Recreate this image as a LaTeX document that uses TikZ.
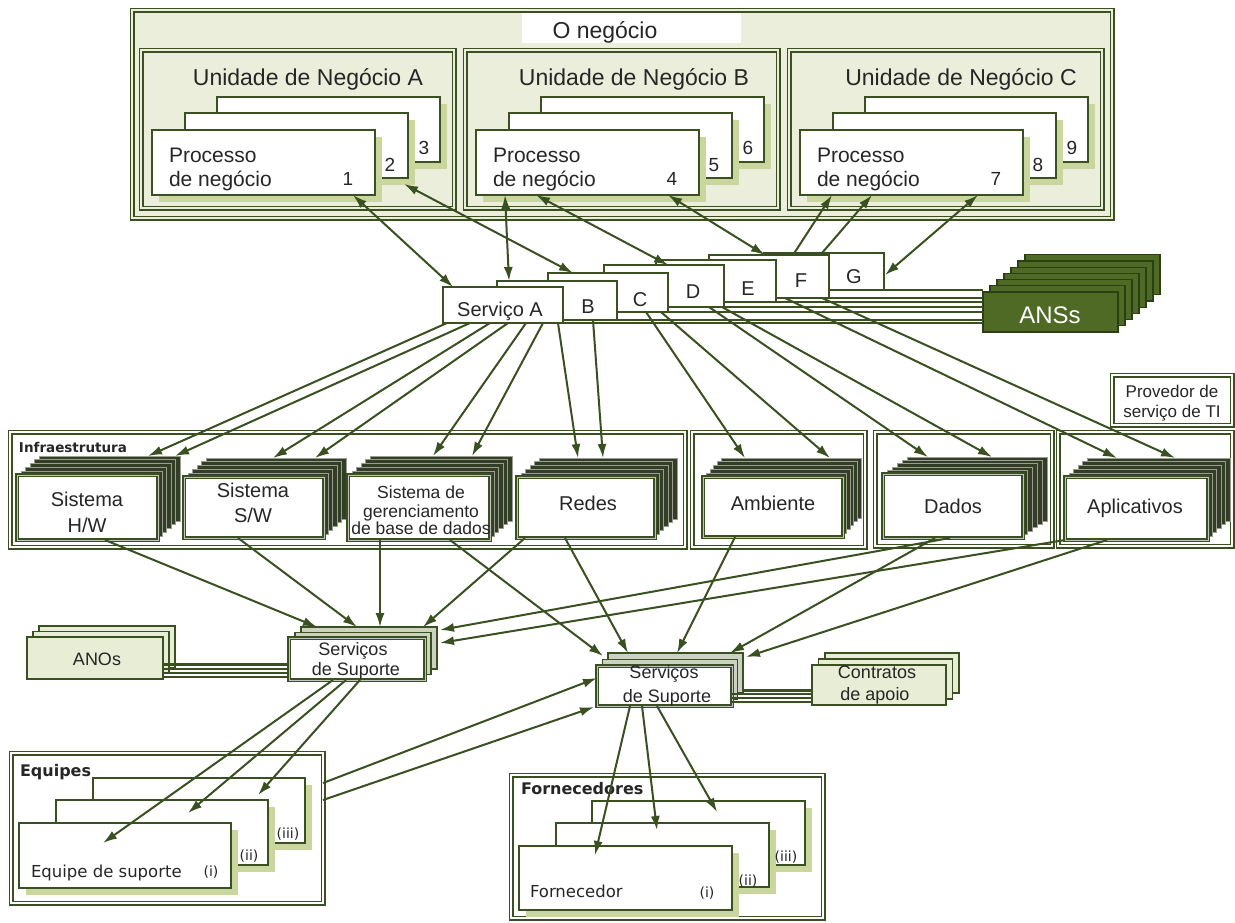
\documentclass[tikz,border=0pt]{standalone}
\usepackage{fontspec}
\setmainfont{Liberation Sans}
\newfontfamily\dejavu{DejaVu Sans}
\usetikzlibrary{arrows.meta,calc}

\definecolor{dg}{HTML}{3A5020}
\definecolor{bizbg}{HTML}{EBEEDB}
\definecolor{shade}{HTML}{C9D79E}
\definecolor{ansfill}{HTML}{4E6A25}
\definecolor{ansline}{HTML}{2B4012}
\definecolor{stackdark}{HTML}{323E26}
\definecolor{stackedge}{HTML}{9A9D90}
\definecolor{ssgray}{HTML}{CDD1C1}
\definecolor{paleg}{HTML}{E8EDD5}
\definecolor{ink}{HTML}{262626}

\newcommand\fsz[1]{\fontsize{#1}{#1}\selectfont}

% three cascaded business-process cards with their labels
\newcommand\procstack[5]{%
  \node[procard, minimum width=223, minimum height=65] (#1c) at ({#2+65},97) {};
  \node[procard, minimum width=223, minimum height=65] (#1b) at ({#2+33},113) {};
  \node[procard, minimum width=223, minimum height=65] (#1a) at (#2,130) {};
  \node[ptext, anchor=base west] (#1t) at ({#2+17},162) {Processo};
  \node[ptext, anchor=base west] (#1u) at ({#2+17},186) {de negócio};
  \node[pnum] (#1n) at ({#2+196},179) {#3};
  \node[pnum] (#1m) at ({#2+238},165) {#4};
  \node[pnum] (#1l) at ({#2+272},148) {#5};
}

% infrastructure component: five dark cards behind a white front card
\newcommand\infstack[7]{%
  \foreach \k in {5,...,1}{
    \node[backcard, minimum width=#4, minimum height=#5] (#1\k) at ({#2+\k*#6},{#3-\k*#7}) {};
  }
  \node[frontcard, minimum width=#4, minimum height=#5] (#1) at (#2,#3) {};
}

% two cards behind a front card
\newcommand\cardstack[9]{%
  \foreach \k in {2,1}{
    \node[#8, minimum width=#4, minimum height=#5] (#1\k) at ({#2+\k*#6},{#3-\k*#7}) {};
  }
  \node[#9, minimum width=#4, minimum height=#5] (#1) at (#2,#3) {};
}

\begin{document}
\begin{tikzpicture}[x=1pt, y=-1pt,
  every node/.style={inner sep=0pt, outer sep=0pt, text=ink},
  boxframe/.style={draw=dg, line width=1.7pt, double=#1, double distance=1.6pt, fill=#1, anchor=north west},
  boxframe/.default=white,
  procard/.style={draw=dg, line width=2.2pt, fill=white, anchor=north west,
    preaction={fill=shade, transform canvas={xshift=7pt, yshift=-7pt}}},
  svccard/.style={draw=dg, line width=1.9pt, fill=white, anchor=north west, minimum width=120},
  anscard/.style={draw=ansline, line width=1.2pt, fill=ansfill, anchor=north west,
    minimum width=135, minimum height=40},
  backcard/.style={draw=stackedge, line width=0.8pt, fill=stackdark, anchor=north west},
  frontcard/.style={draw=dg, line width=1.6pt, double=stackedge!60, double distance=0.9pt,
    fill=white, anchor=north west},
  ssback/.style={draw=dg, line width=1.6pt, fill=ssgray, anchor=north west},
  ssfront/.style={draw=dg, line width=1.5pt, double=stackedge!60, double distance=0.8pt,
    fill=white, anchor=north west},
  palecard/.style={draw=dg, line width=1.6pt, fill=paleg, anchor=north west},
  link/.style={draw=dg, line width=1.6pt},
  thinlink/.style={draw=dg, line width=1.2pt},
  heavylink/.style={draw=dg, line width=3pt},
  arr/.style={draw=dg, line width=2pt, -{Latex[length=14pt,width=9pt]}},
  barr/.style={draw=dg, line width=2pt, {Latex[length=14pt,width=9pt]}-{Latex[length=14pt,width=9pt]}},
  title/.style={font=\fsz{23}, anchor=base},
  ptext/.style={font=\fsz{21}},
  pnum/.style={font=\fsz{19}},
  svct/.style={font=\fsz{20}, anchor=base},
  anst/.style={font=\fsz{24}, text=white, anchor=base},
  inft/.style={font=\fsz{20}, anchor=base},
  dbt/.style={font=\fsz{17.5}, anchor=base},
  provt/.style={font=\fsz{17}, anchor=base},
  sst/.style={font=\fsz{18}, anchor=base},
  boldlbl/.style={font=\dejavu\bfseries\fsz{16}, anchor=base west},
  cardt/.style={font=\dejavu\fsz{16.5}, anchor=base west},
  roman/.style={font=\dejavu\fsz{14}}
]
\useasboundingbox (0,0) rectangle (1235,922);
\fill[white] (0,0) rectangle (1235,922);

% ---------- the business ----------
\node[boxframe=bizbg, minimum width=980, minimum height=208] (biz) at (132,10) {};
\node[fill=white, anchor=north west, minimum width=219, minimum height=30] (bizlbl) at (522,13) {};
\node[title] (biztxt) at (605,38) {O negócio};
\node[boxframe=bizbg, minimum width=313, minimum height=158] (unitA) at (141,50) {};
\node[boxframe=bizbg, minimum width=313, minimum height=158] (unitB) at (465,50) {};
\node[boxframe=bizbg, minimum width=313, minimum height=158] (unitC) at (789,50) {};
\node[title] (unitAt) at (308,85) {Unidade de Negócio A};
\node[title] (unitBt) at (634,85) {Unidade de Negócio B};
\node[title] (unitCt) at (961,85) {Unidade de Negócio C};
\procstack{pA}{152}{1}{2}{3}
\procstack{pB}{476}{4}{5}{6}
\procstack{pC}{800}{7}{8}{9}

% ---------- services ----------
\node[svccard, minimum height=37] (svcG) at (764,253) {};
\node[svccard, minimum height=43] (svcF) at (709,255) {};
\node[svccard, minimum height=42] (svcE) at (656,260) {};
\node[svccard, minimum height=42] (svcD) at (604,265) {};
\node[svccard, minimum height=39] (svcC) at (548,273) {};
\node[svccard, minimum height=39] (svcB) at (497,281) {};
\node[svccard, minimum height=36] (svcA) at (443,287) {};
\node[svct] (svcAt) at (500,316) {Serviço A};
\node[svct] (svcBt) at (588,313) {B};
\node[svct] (svcCt) at (640,306) {C};
\node[svct] (svcDt) at (693,298) {D};
\node[svct] (svcEt) at (748,295) {E};
\node[svct] (svcFt) at (801,287) {F};
\node[svct] (svcGt) at (854,283) {G};

% service level agreements
\foreach \k in {6,...,0}{
  \node[anscard] (ans\k) at ({983+7*\k},{292-6.2*\k}) {};
}
\node[anst] (anstxt) at (1050,323) {ANSs};
\foreach \s in {A,B,C,D,E,F,G}{
  \draw[link] (svc\s.south east) -- (svc\s.south east -| ans0.west);
}

% ---------- IT provider ----------
\node[boxframe, minimum width=120, minimum height=50] (prov) at (1112,375) {};
\node[provt] (provt1) at (1172,397) {Provedor de};
\node[provt] (provt2) at (1172,417) {serviço de TI};

\node[boxframe, minimum width=675, minimum height=115] (infra) at (10,432) {};
\node[font=\dejavu\bfseries\fsz{13.5}, anchor=base west] (infrat) at (19,452) {Infraestrutura};
\node[boxframe, minimum width=173, minimum height=115] (ambf) at (692,432) {};
\node[boxframe, minimum width=177, minimum height=114] (dadf) at (875,432) {};
\node[boxframe, minimum width=174, minimum height=114] (aplf) at (1058,432) {};

\infstack{hw}{17}{475}{141}{65}{4.4}{3.8}
\infstack{sw}{184}{477}{140}{61}{4.4}{3.8}
\infstack{db}{348}{475}{142}{65}{4.4}{3.8}
\infstack{rd}{517}{477}{138}{61}{4.4}{3.8}
\infstack{am}{703}{477}{140}{60}{3.6}{3.8}
\infstack{da}{883}{474}{140}{64}{4.8}{3.4}
\infstack{ap}{1065}{477}{143}{63}{4.4}{3.8}

\node[inft] (hwt1) at (87,506) {Sistema};
\node[inft] (hwt2) at (87,532) {H/W};
\node[inft] (swt1) at (253,497) {Sistema};
\node[inft] (swt2) at (253,522) {S/W};
\node[dbt] (dbt1) at (421,498) {Sistema de};
\node[dbt] (dbt2) at (421,517) {gerenciamento};
\node[dbt] (dbt3) at (421,534) {de base de dados};
\node[inft] (rdt) at (588,510) {Redes};
\node[inft] (amt) at (773,510) {Ambiente};
\node[inft] (dat) at (953,513) {Dados};
\node[inft] (apt) at (1135,513) {Aplicativos};

% ---------- support services ----------
\cardstack{an}{27}{637}{136}{42}{6}{5.5}{palecard}{palecard}
\cardstack{ss}{289}{638}{136}{42}{6}{5.5}{ssback}{ssfront}
\cardstack{ct}{812}{665}{134}{40}{6.5}{6}{palecard}{palecard}
\cardstack{rs}{597}{666}{135}{40}{5.5}{6.5}{ssback}{ssfront}

\node[sst] (ant) at (97,665) {ANOs};
\node[sst] (sst1) at (353,655) {Serviços};
\node[sst] (sst2) at (356,675) {de Suporte};
\node[sst] (rst1) at (664,678) {Serviços};
\node[sst] (rst2) at (667,702) {de Suporte};
\node[sst] (ctt1) at (877,678) {Contratos};
\node[sst] (ctt2) at (875,700) {de apoio};

\draw[heavylink] ($(an.north east)+(0,27)$) -- ($(ss.north west)+(0,26)$);
\draw[thinlink] ($(an.north east)+(0,32)$) -- ($(ss.north west)+(0,31)$);
\draw[thinlink] ($(an.north east)+(0,36)$) -- ($(ss.north west)+(0,35)$);
\draw[thinlink] ($(an.north east)+(0,40)$) -- ($(ss.north west)+(0,39)$);
\draw[heavylink] ($(rs2.north east)+(0,37)$) -- ($(ct.north west)+(0,25)$);
\draw[thinlink] ($(rs.north east)+(0,28)$) -- ($(ct.north west)+(0,29)$);
\draw[thinlink] ($(rs.north east)+(0,32)$) -- ($(ct.north west)+(0,33)$);
\draw[thinlink] ($(rs.north east)+(0,36)$) -- ($(ct.north west)+(0,37)$);

% ---------- teams and suppliers ----------
\node[boxframe, minimum width=312, minimum height=150] (eqf) at (11,753) {};
\node[boldlbl] (eqft) at (20,776) {Equipes};
\node[procard, minimum width=212, minimum height=65] (eq3) at (93,778) {};
\node[procard, minimum width=212, minimum height=65] (eq2) at (56,800) {};
\node[procard, minimum width=212, minimum height=65] (eq1) at (19,823) {};
\node[cardt] (eq1t) at (31,877) {Equipe de suporte};
\node[roman] (eq1n) at (211,872) {(i)};
\node[roman] (eq2n) at (249,856) {(ii)};
\node[roman] (eq3n) at (288,834) {(iii)};

\node[boxframe, minimum width=312, minimum height=143] (fof) at (511,775) {};
\node[boldlbl] (foft) at (521,794) {Fornecedores};
\node[procard, minimum width=213, minimum height=64] (fo3) at (592,801) {};
\node[procard, minimum width=213, minimum height=64] (fo2) at (556,823) {};
\node[procard, minimum width=213, minimum height=64] (fo1) at (519,846) {};
\node[cardt] (fo1t) at (530,897) {Fornecedor};
\node[roman] (fo1n) at (707,893) {(i)};
\node[roman] (fo2n) at (748,881) {(ii)};
\node[roman] (fo3n) at (786,857) {(iii)};

% ---------- business processes <-> services ----------
\draw[barr] ($(pAa.south west)+(201,0)$) -- ($(svcA.north west)+(10,0)$);
\draw[barr] ($(pAb.south east)+(-4,6)$) -- ($(svcC.north west)+(25,0)$);
\draw[barr] ($(pBa.south west)+(29,0)$) -- ($(svcB.north west)+(12,0)$);
\draw[barr] ($(pBa.south west)+(60,0)$) -- ($(svcD.north west)+(64,0)$);
\draw[barr] ($(pBa.south east)+(-31,0)$) -- ($(svcF.north west)+(56,0)$);
\draw[arr] ($(svcF.north west)+(84,0)$) -- ($(pCa.south west)+(32,0)$);
\draw[arr] ($(svcG.north west)+(58,0)$) -- ($(pCa.south west)+(72,0)$);
\draw[barr] ($(pCa.south east)+(-45,0)$) -- ($(svcG.north east)+(1,22)$);

% ---------- services -> infrastructure ----------
\draw[arr] ($(svcA.south west)+(4,0)$) -- ($(hw5.north west)+(109,0)$);
\draw[arr] ($(svcA.south west)+(27,0)$) -- ($(hw5.north west)+(136,0)$);
\draw[arr] ($(svcA.south west)+(47,0)$) -- ($(sw5.north west)+(67,0)$);
\draw[arr] ($(svcA.south west)+(65,0)$) -- ($(sw5.north west)+(109,0)$);
\draw[arr] ($(svcA.south west)+(83,0)$) -- ($(db5.north west)+(63,0)$);
\draw[arr] ($(svcA.south west)+(100,0)$) -- ($(db5.north west)+(102,0)$);
\draw[arr] ($(svcA.south west)+(115,0)$) -- ($(rd5.north west)+(39,0)$);
\draw[arr] ($(svcB.south west)+(96,0)$) -- ($(rd5.north west)+(64,0)$);
\draw[arr] ($(svcC.south west)+(98,0)$) -- ($(am5.north west)+(24,0)$);
\draw[arr] ($(svcC.south west)+(113,0)$) -- ($(am5.north west)+(109,0)$);
\draw[arr] ($(svcD.south west)+(105,0)$) -- ($(da5.north west)+(21,0)$);
\draw[arr] ($(svcD.south west)+(118,0)$) -- ($(da5.north west)+(85,0)$);
\draw[arr] ($(svcF.south west)+(76,0)$) -- ($(ap5.north west)+(30,0)$);
\draw[arr] ($(svcF.south west)+(113,0)$) -- ($(ap5.north west)+(88,0)$);

% ---------- infrastructure -> support services ----------
\draw[arr] ($(hw.south west)+(88,0)$) -- ($(ss2.north west)+(16,0)$);
\draw[arr] ($(sw.south west)+(54,0)$) -- ($(ss2.north west)+(56,0)$);
\draw[arr] ($(db.south west)+(32,0)$) -- ($(ss2.north west)+(79,0)$);
\draw[arr] ($(rd.south west)+(8,0)$) -- ($(ss2.north west)+(122,0)$);
\draw[arr] ($(da.south west)+(67,0)$) -- ($(ss2.north east)+(3,3)$);
\draw[arr] (ap.south west) -- ($(ss2.north east)+(3,16)$);
\draw[arr] ($(db.south west)+(102,0)$) -- ($(rs2.north west)+(-5,3)$);
\draw[arr] ($(rd.south west)+(48,0)$) -- ($(rs2.north west)+(20,0)$);
\draw[arr] ($(am.south west)+(32,0)$) -- ($(rs2.north west)+(69,0)$);
\draw[arr] ($(da.south west)+(52,0)$) -- ($(rs2.north west)+(122,0)$);
\draw[arr] ($(ap.south west)+(42,0)$) -- ($(rs2.north east)+(3,4)$);

% ---------- support services <-> teams and suppliers ----------
\draw[arr] ($(ss.south west)+(44,0)$) -- ($(eq1.north west)+(84,20)$);
\draw[arr] ($(ss.south west)+(57,0)$) -- ($(eq2.north west)+(132,13)$);
\draw[arr] ($(ss.south west)+(71,0)$) -- ($(eq3.north west)+(165,17)$);
\draw[arr] ($(eqf.north east)+(0,30)$) -- ($(rs.north west)+(0,12)$);
\draw[arr] ($(eqf.north east)+(0,47)$) -- ($(rs.south west)+(-3,1)$);
\draw[arr] ($(rs.south west)+(33,0)$) -- ($(fo1.north west)+(76,9)$);
\draw[arr] ($(rs.south west)+(45,0)$) -- ($(fo2.north west)+(101,7)$);
\draw[arr] ($(rs.south west)+(60,0)$) -- ($(fo3.north west)+(125,11)$);
\end{tikzpicture}
\end{document}
